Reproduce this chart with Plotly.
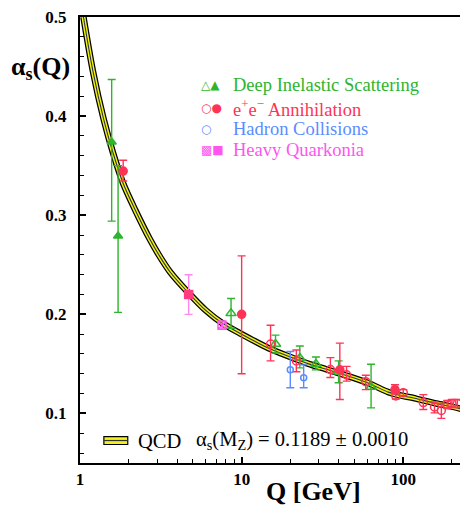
import plotly.graph_objects as go

# ---------------- data ----------------
# QCD curve (band centre), Q in GeV
qcd_Q = [1.05, 1.2, 1.4, 1.6, 1.85, 2.2, 2.7, 3.1, 3.6, 4.75, 6.0, 7.6, 10.0,
         14.7, 20.0, 26.0, 31.4, 45.0, 60.0, 80.8, 91.2, 120.0, 160.0, 200.0, 245.0]
qcd_a = [0.500, 0.446, 0.397, 0.363, 0.332, 0.305, 0.276, 0.259, 0.243, 0.2207,
         0.204, 0.191, 0.180, 0.1658, 0.157, 0.150, 0.1459, 0.138, 0.131, 0.1215,
         0.1189, 0.1150, 0.1100, 0.1068, 0.1033]

# Deep inelastic scattering
dis_f_Q = [1.57, 1.72]
dis_f_a = [0.374, 0.279]
dis_f_ep = [0.063, 0.071]
dis_f_em = [0.080, 0.077]
dis_o_Q = [8.6, 16.2, 22.9, 28.8, 39.8, 63.2]
dis_o_a = [0.201, 0.170, 0.156, 0.150, 0.142, 0.1266]
dis_o_ep = [0.015, 0.009, 0.012, 0.007, 0.011, 0.023]
dis_o_em = [0.015, 0.009, 0.010, 0.006, 0.011, 0.021]

# e+e- annihilation
ee_f_Q = [1.85, 10.0, 40.5, 88.8]
ee_f_a = [0.3445, 0.200, 0.144, 0.124]
ee_f_ep = [0.011, 0.059, 0.027, 0.005]
ee_f_em = [0.010, 0.060, 0.030, 0.004]
ee_o_Q = [15.1, 21.8, 35.4, 44.6, 58.6, 89.9, 100.0, 133.0, 156.0, 172.0, 187.0, 200.0, 216.0]
ee_o_a = [0.170, 0.153, 0.1443, 0.139, 0.132, 0.1176, 0.121, 0.111, 0.1066, 0.103, 0.109, 0.110, 0.110]
ee_o_ep = [0.019, 0.011, 0.012, 0.0085, 0.0066, 0.003, 0.003, 0.008, 0.005, 0.007, 0.004, 0.004, 0.004]
ee_o_em = [0.017, 0.011, 0.008, 0.0064, 0.008, 0.003, 0.003, 0.007, 0.006, 0.008, 0.004, 0.004, 0.004]

# Hadron collisions
had_Q = [20.0, 24.2]
had_a = [0.144, 0.136]
had_ep = [0.0185, 0.013]
had_em = [0.018, 0.010]

# Heavy quarkonia
hq_f_Q = [4.7]
hq_f_a = [0.220]
hq_f_e = [0.020]
hq_o_Q = [7.56]
hq_o_a = [0.189]
hq_o_e = [0.004]

y_ticks = [0.1, 0.2, 0.3, 0.4, 0.5]
x_ticks = [1, 10, 100]

GREEN = "#2db52d"
RED = "#ff3355"
BLUE = "#5b8cff"
MAG = "#ff55ee"
PINK = "#ff3d80"

fig = go.Figure()

# QCD band (black edges, yellow fill, dark centre)
for w, c in [(6.5, "black"), (4, "#f2f21a"), (1.1, "#2a3350")]:
    fig.add_trace(go.Scatter(x=qcd_Q, y=qcd_a, mode="lines",
                             line=dict(color=c, width=w, shape="spline", smoothing=0.8),
                             hoverinfo="skip", showlegend=False))


def pts(x, y, ep, em, sym, col, ecol, size=8, lw=1.5):
    fig.add_trace(go.Scatter(
        x=x, y=y, mode="markers", showlegend=False,
        marker=dict(symbol=sym, size=size, color=col, line=dict(color=col, width=lw)),
        error_y=dict(type="data", array=ep, arrayminus=em, color=ecol, thickness=1.4, width=4)))


pts(dis_f_Q, dis_f_a, dis_f_ep, dis_f_em, "triangle-up", GREEN, GREEN)
pts(dis_o_Q, dis_o_a, dis_o_ep, dis_o_em, "triangle-up-open", GREEN, GREEN, size=9)
pts(ee_f_Q, ee_f_a, ee_f_ep, ee_f_em, "circle", RED, RED)
pts(ee_o_Q, ee_o_a, ee_o_ep, ee_o_em, "circle-open", RED, RED)
pts(had_Q, had_a, had_ep, had_em, "circle-open", BLUE, BLUE, size=6)
pts(hq_f_Q, hq_f_a, hq_f_e, hq_f_e, "square", PINK, "#ff88ee")
pts(hq_o_Q, hq_o_a, hq_o_e, hq_o_e, "square-x-open", MAG, MAG)

# page has an 8px body margin; all pixel positions below are page pixels
OFF = 8
W, H = 468 - OFF, 508 - OFF
# plot area in page pixels: x 80..468, y 12..462.7
L, R, T, B = 80, 468, 12, 462.7


def px(x):
    return (x - L) / (R - L)


def py(y):
    return (B - y) / (B - T)


serif = "Liberation Serif, Times New Roman, serif"
ann = []


def text(t, x, y, size, col="black", bold=False, xa="center", fam=serif):
    f = dict(family=fam, size=size, color=col)
    if bold:
        f["weight"] = "bold"
    ann.append(dict(text=t, x=px(x), y=py(y), xref="paper", yref="paper",
                    xanchor=xa, yanchor="middle", showarrow=False, font=f))


text("α<sub>s</sub>(Q)", 40, 64, 26, bold=True)
text("Q [GeV]", 315, 492, 26, bold=True)

legend = [("Deep Inelastic Scattering", "△▲", GREEN, 81),
          ("e<sup style='font-size:70%'>+</sup>e<sup style='font-size:70%'>−</sup> Annihilation", "○●", RED, 103.5),
          ("Hadron Collisions", "○  ", BLUE, 125),
          ("Heavy Quarkonia", "▩■", MAG, 146)]
for txt, sym, col, yy in legend:
    text(txt, 232, yy, 18.5, col=col, xa="left")
    text(sym, 200, yy, 12, col=col, xa="left", fam="DejaVu Sans")

text("QCD", 136, 440, 20.5, xa="left")
text("α<sub>s</sub>(M<sub>Z</sub>) = 0.1189 ± 0.0010", 195, 440, 20.5, xa="left")

shapes = [
    dict(type="rect", xref="paper", yref="paper", x0=px(104), x1=px(128), y0=py(444), y1=py(436),
         fillcolor="#f2f21a", line=dict(color="black", width=1.2)),
    dict(type="line", xref="paper", yref="paper", x0=px(104), x1=px(128), y0=py(440), y1=py(440),
         line=dict(color="#333", width=1.2)),
]

tickfont = dict(family=serif, size=17, color="black", weight="bold")

fig.update_layout(
    width=W, height=H,
    margin=dict(l=L - OFF, r=0, t=T - OFF, b=H - (B - OFF)),
    paper_bgcolor="white", plot_bgcolor="white",
    font=dict(family=serif, color="black"),
    showlegend=False,
    annotations=ann, shapes=shapes,
    xaxis=dict(type="log", range=[0, 2.388], tickvals=x_ticks, ticktext=["1", "10", "100"],
               showgrid=False, zeroline=False, showline=True, linecolor="black", linewidth=2,
               mirror=True, ticks="inside", ticklen=6, tickwidth=1.5, tickcolor="black",
               ticklabeloverflow="allow",
               minor=dict(tickvals=[2, 3, 4, 5, 6, 7, 8, 9, 20, 30, 40, 50, 60, 70, 80, 90, 200],
                          ticks="inside", ticklen=4, tickcolor="black", tickwidth=1),
               tickfont=tickfont),
    yaxis=dict(range=[0.05, 0.5], tickvals=y_ticks, ticktext=["0.1", "0.2", "0.3", "0.4", "0.5"],
               showgrid=False, zeroline=False, showline=True, linecolor="black", linewidth=2,
               mirror="ticks", ticks="inside", ticklen=6, tickwidth=1.5, tickcolor="black",
               ticklabelstandoff=8, ticklabeloverflow="allow",
               minor=dict(dtick=0.02, ticks="inside", ticklen=4, tickcolor="black", tickwidth=1),
               tickfont=tickfont),
)

fig.write_html("out.html")
